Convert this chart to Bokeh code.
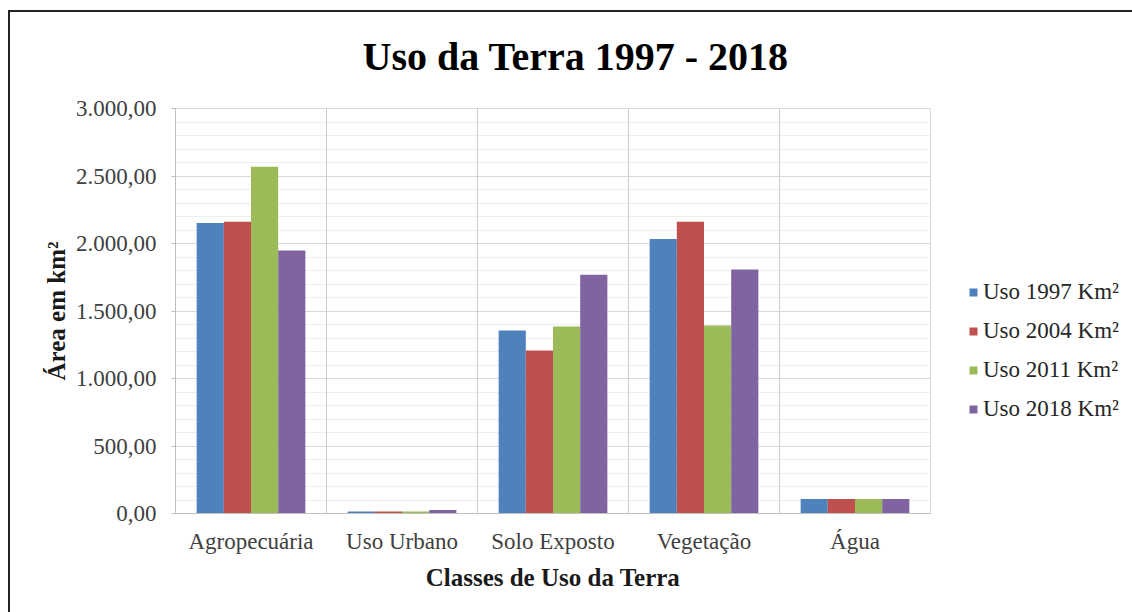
from bokeh.plotting import figure
from bokeh.models import ColumnDataSource, FactorRange, SingleIntervalTicker, Span, Range1d, Legend
from bokeh.transform import dodge
from bokeh.embed import file_html
from bokeh.resources import INLINE

categories = ["Agropecuária", "Uso Urbano", "Solo Exposto", "Vegetação", "Água"]
uso_1997 = [2151, 14, 1355, 2033, 108]
uso_2004 = [2162, 15, 1207, 2162, 108]
uso_2011 = [2569, 15, 1385, 1392, 108]
uso_2018 = [1948, 26, 1769, 1808, 108]
series_labels = ["Uso 1997 Km²", "Uso 2004 Km²", "Uso 2011 Km²", "Uso 2018 Km²"]
series_colors = ["#4F81BD", "#C0504D", "#9BBB59", "#8064A2"]
y_ticks = [0, 500, 1000, 1500, 2000, 2500, 3000]
y_tick_labels = ["0,00", "500,00", "1.000,00", "1.500,00", "2.000,00", "2.500,00", "3.000,00"]
title_text = "Uso da Terra 1997 - 2018"
x_title = "Classes de Uso da Terra"
y_title = "Área em km²"

FONT = "Liberation Serif"

src = ColumnDataSource(dict(cat=categories, s1997=uso_1997, s2004=uso_2004,
                            s2011=uso_2011, s2018=uso_2018))

p = figure(x_range=FactorRange(factors=categories), y_range=Range1d(0, 3000),
           frame_width=755, frame_height=405, output_backend="svg", toolbar_location=None,
           min_border_left=175, min_border_right=202, min_border_top=108, min_border_bottom=99)
p.border_fill_alpha = 0
p.background_fill_color = "white"
p.styles = {"background": "linear-gradient(#222, #222) 8px 10px / 1124px 2px no-repeat, "
                          "linear-gradient(#222, #222) 8px 10px / 2px 602px no-repeat, white"}

# title
p.title.text = title_text
p.title.align = "left"
p.title.offset = 187
p.title.vertical_align = "top"
p.title.standoff = 56
p.title.text_font = FONT
p.title.text_font_style = "bold"
p.title.text_font_size = "40px"
p.title.text_color = "black"

cols = ["s1997", "s2004", "s2011", "s2018"]
offsets = [-0.27, -0.09, 0.09, 0.27]
renderers = []
for c, off, col, lab in zip(cols, offsets, series_colors, series_labels):
    r = p.vbar(x=dodge("cat", off, range=p.x_range), top=c, width=0.18, bottom=0,
               source=src, fill_color=col, line_color=None)
    renderers.append((lab, [r]))

# grid
ticker = SingleIntervalTicker(interval=500, num_minor_ticks=5)
p.yaxis.ticker = ticker
p.ygrid.ticker = ticker
p.ygrid.grid_line_color = "#d9d9d9"
p.ygrid.minor_grid_line_color = "#eeeeee"
p.xgrid.grid_line_color = None
for i in range(1, len(categories)):
    p.add_layout(Span(location=i, dimension="height", line_color="#cccccc", line_width=1))

p.outline_line_color = "#d9d9d9"

# axes
p.yaxis.major_label_overrides = {t: l for t, l in zip(y_ticks, y_tick_labels)}
p.yaxis.axis_line_color = "#bfbfbf"
p.yaxis.major_tick_line_color = "#bfbfbf"
p.yaxis.major_tick_out = 4
p.yaxis.major_tick_in = 0
p.yaxis.minor_tick_line_color = None
p.yaxis.major_label_standoff = 15
p.yaxis.major_label_text_font = FONT
p.yaxis.major_label_text_font_size = "23px"
p.yaxis.major_label_text_color = "#404040"
p.yaxis.axis_label = y_title
p.yaxis.axis_label_text_font = FONT
p.yaxis.axis_label_text_font_style = "bold"
p.yaxis.axis_label_text_font_size = "25px"
p.yaxis.axis_label_text_color = "#1a1a1a"
p.yaxis.axis_label_standoff = 3

p.xaxis.axis_line_color = "#bfbfbf"
p.xaxis.major_tick_line_color = None
p.xaxis.major_tick_out = 0
p.xaxis.major_label_standoff = 15
p.xaxis.major_label_text_font = FONT
p.xaxis.major_label_text_font_size = "23px"
p.xaxis.major_label_text_color = "#404040"
p.xaxis.axis_label = x_title
p.xaxis.axis_label_text_font = FONT
p.xaxis.axis_label_text_font_style = "bold"
p.xaxis.axis_label_text_font_size = "25px"
p.xaxis.axis_label_text_color = "#1a1a1a"
p.xaxis.axis_label_standoff = 7

legend = Legend(items=renderers, location=(38, 91), orientation="vertical",
                glyph_width=10, glyph_height=10, label_height=20, spacing=13,
                label_standoff=5, padding=0, margin=0,
                label_text_font=FONT, label_text_font_size="23px", label_text_color="#262626",
                background_fill_alpha=0, border_line_color=None)
p.add_layout(legend, "right")

open("out.html", "w").write(file_html(p, INLINE))
